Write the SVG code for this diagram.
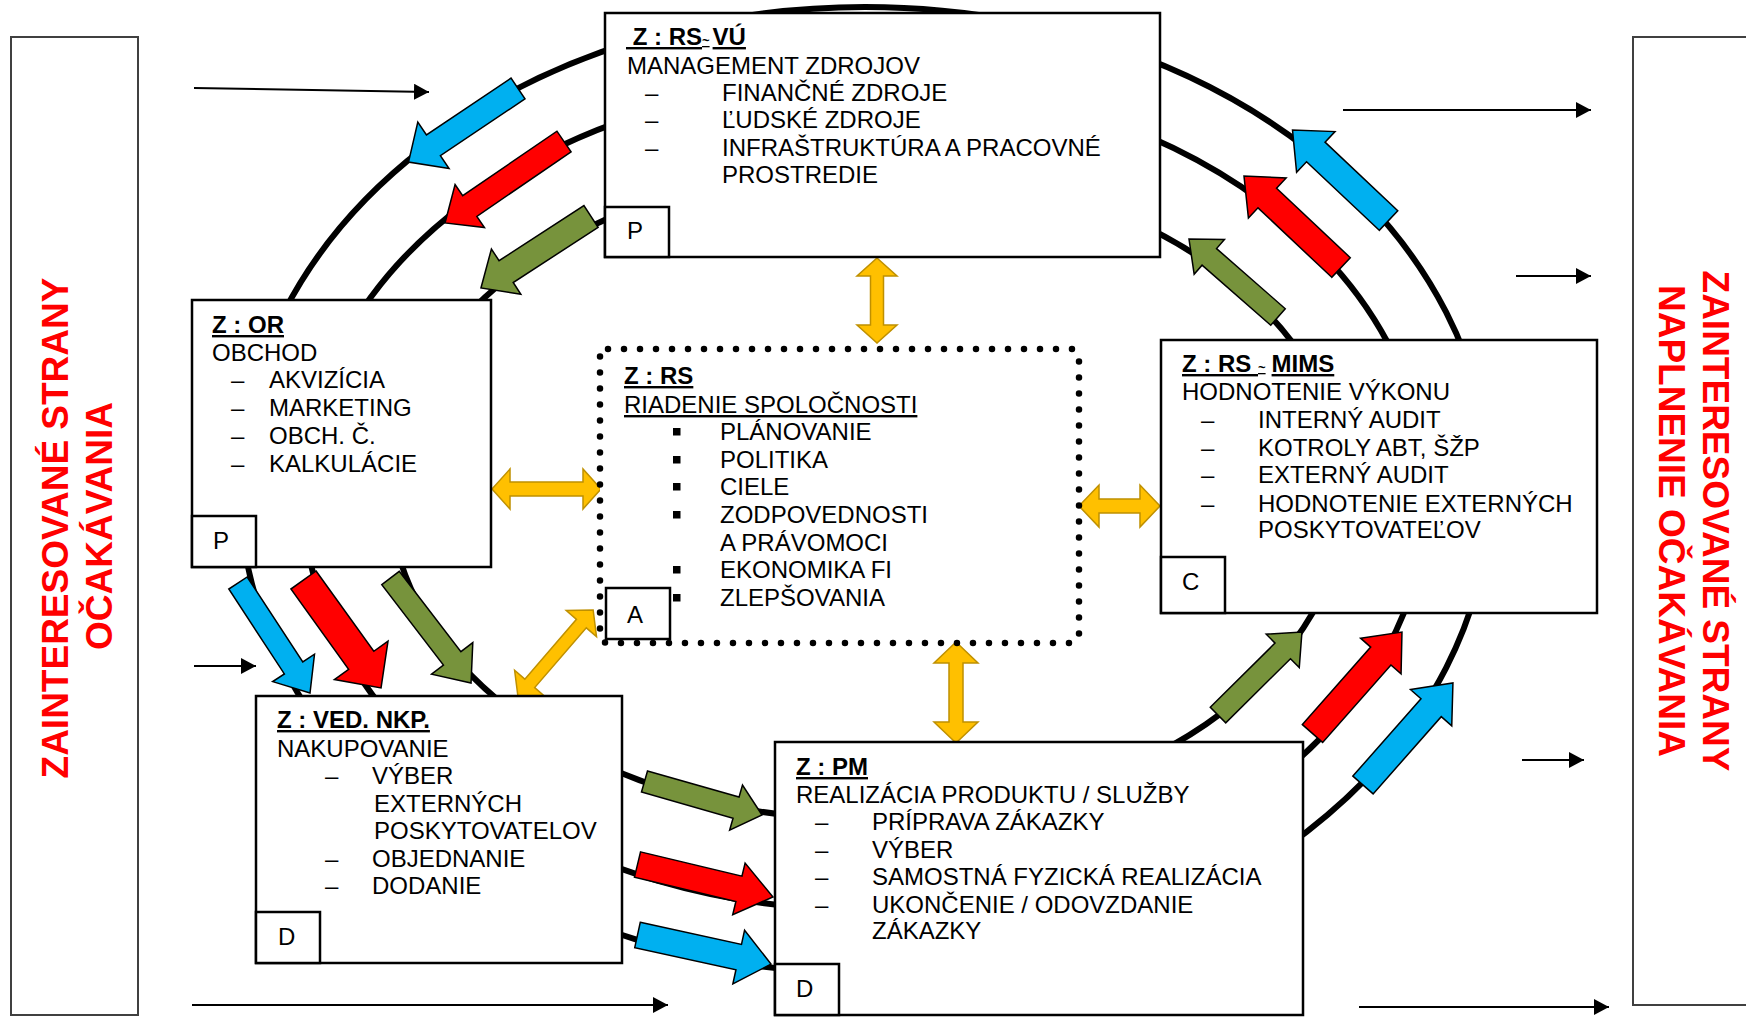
<svg xmlns="http://www.w3.org/2000/svg" width="1746" height="1028" viewBox="0 0 1746 1028">
<style>
.t{font-family:"Liberation Sans",Arial,sans-serif;font-size:24px;fill:#000}
.b{font-weight:bold}
.u{text-decoration:underline}
.side{font-family:"Liberation Sans",Arial,sans-serif;font-size:37px;font-weight:bold;fill:#FF0000}
.box{fill:#fff;stroke:#000;stroke-width:2.5}
.sbox{fill:#fff;stroke:#404040;stroke-width:2}
.ring{fill:none;stroke:#000;stroke-width:6}
.thin{stroke:#000;stroke-width:2;fill:none;marker-end:url(#ah)}
.blue{fill:#00B0F0;stroke:#000;stroke-width:1.5}
.red{fill:#FF0000;stroke:#000;stroke-width:1.5}
.green{fill:#77933C;stroke:#000;stroke-width:1.5}
.yel{fill:#FFC000;stroke:#BF9000;stroke-width:1.5}
</style>
<defs>
<marker id="ah" markerUnits="userSpaceOnUse" markerWidth="15" markerHeight="16" refX="15" refY="8" orient="auto"><path d="M0,0L15,8L0,16Z" fill="#000"/></marker>
</defs>
<rect width="1746" height="1028" fill="#fff"/>

<g id="stakeholders-expectations">
<rect class="sbox" x="11" y="37" width="127" height="978"/>
<text class="side" text-anchor="middle" transform="translate(68,528) rotate(-90)">ZAINTERESOVANÉ STRANY</text>
<text class="side" text-anchor="middle" transform="translate(112,526) rotate(-90)">OČAKÁVANIA</text>
</g>
<g id="stakeholders-fulfilment">
<rect class="sbox" x="1633" y="37" width="200" height="968"/>
<text class="side" text-anchor="middle" transform="translate(1703,521) rotate(90)">ZAINTERESOVANÉ STRANY</text>
<text class="side" text-anchor="middle" transform="translate(1659,521) rotate(90)">NAPLNENIE OČAKÁVANIA</text>
</g>

<g id="connectors">
<ellipse class="ring" cx="865" cy="490" rx="625" ry="483"/>
<ellipse class="ring" cx="865" cy="495" rx="562" ry="415"/>
<ellipse class="ring" cx="868" cy="493" rx="478" ry="327"/>

<line class="thin" x1="194" y1="88" x2="429" y2="92"/>
<line class="thin" x1="194" y1="666" x2="256" y2="666"/>
<line class="thin" x1="192" y1="1005" x2="668" y2="1005"/>
<line class="thin" x1="1343" y1="110" x2="1591" y2="110"/>
<line class="thin" x1="1516" y1="276" x2="1591" y2="276"/>
<line class="thin" x1="1522" y1="760" x2="1584" y2="760"/>
<line class="thin" x1="1359" y1="1007" x2="1609" y2="1007"/>

<path class="blue" transform="translate(518,88.5) rotate(146.1)" d="M0,-12.5H101.9V-28L131.9,0L101.9,28V12.5H0Z"/>
<path class="red" transform="translate(564,141.5) rotate(145.6)" d="M0,-12.5H114.2V-26L144.2,0L114.2,26V12.5H0Z"/>
<path class="green" transform="translate(591,216.5) rotate(147)" d="M0,-13H101.2V-27L131.2,0L101.2,27V13H0Z"/>
<path class="blue" transform="translate(1388.5,220.5) rotate(-136.7)" d="M0,-13.5H99.9V-28L131.9,0L99.9,28V13.5H0Z"/>
<path class="red" transform="translate(1341,267.5) rotate(-136.7)" d="M0,-13.5H101.3V-27.5L133.3,0L101.3,27.5V13.5H0Z"/>
<path class="green" transform="translate(1278,317) rotate(-138.8)" d="M0,-11H91.3V-23L118.3,0L91.3,23V11H0Z"/>
<path class="green" transform="translate(1218,715) rotate(-44.7)" d="M0,-11H91.1V-23.5L118.1,0L91.1,23.5V11H0Z"/>
<path class="red" transform="translate(1312.5,733.5) rotate(-48.6)" d="M0,-13.5H103.3V-27L135.3,0L103.3,27V13.5H0Z"/>
<path class="blue" transform="translate(1363,785) rotate(-48.6)" d="M0,-13.5H103V-27.5L136,0L103,27.5V13.5H0Z"/>
<path class="blue" transform="translate(238,583) rotate(56.8)" d="M0,-11H101.5V-25L131.5,0L101.5,25V11H0Z"/>
<path class="red" transform="translate(303.5,580) rotate(54.3)" d="M0,-15.5H98.9V-33L132.9,0L98.9,33V15.5H0Z"/>
<path class="green" transform="translate(390.5,578) rotate(52.5)" d="M0,-11H101.3V-26L132.3,0L101.3,26V11H0Z"/>
<path class="green" transform="translate(644.5,781.5) rotate(15.9)" d="M0,-11H95.2V-23.5L122.2,0L95.2,23.5V11H0Z"/>
<path class="red" transform="translate(637.5,864.5) rotate(13.5)" d="M0,-13H104.3V-26.5L139.3,0L104.3,26.5V13H0Z"/>
<path class="blue" transform="translate(637.5,935) rotate(12.3)" d="M0,-13H103.6V-27.5L136.6,0L103.6,27.5V13H0Z"/>

<polygon class="yel" points="877,258 897,276 883.5,276 883.5,325 897,325 877,343 857,325 870.5,325 870.5,276 857,276"/>
<polygon class="yel" points="492,489 510,469 510,482 583,482 583,469 601,489 583,509 583,496 510,496 510,509"/>
<polygon class="yel" points="1079,506 1099,485 1099,499 1140,499 1140,485 1160,506 1140,527 1140,513 1099,513 1099,527"/>
<polygon class="yel" points="956,642 978,663 963,663 963,722 978,722 956,743 934,722 949,722 949,663 934,663"/>
<path class="yel" transform="translate(518,697) rotate(-49.2)" d="M0,0L18,-20V-6.5H97V-20L115,0L97,20V6.5H18V20Z"/>
</g>

<g id="node-rs-vu">
<rect class="box" x="605" y="13" width="555" height="244"/>
<text class="t b u" x="626" y="45" xml:space="preserve"> Z : RS<tspan font-size="13">~</tspan><tspan dx="3">VÚ</tspan></text>
<text class="t" x="627" y="74">MANAGEMENT ZDROJOV</text>
<text class="t" x="645" y="101">–</text><text class="t" x="722" y="101">FINANČNÉ ZDROJE</text>
<text class="t" x="645" y="128">–</text><text class="t" x="722" y="128">ĽUDSKÉ ZDROJE</text>
<text class="t" x="645" y="156">–</text><text class="t" x="722" y="156">INFRAŠTRUKTÚRA A PRACOVNÉ</text>
<text class="t" x="722" y="183">PROSTREDIE</text>
<rect class="box" x="605" y="207" width="64" height="50"/>
<text class="t" x="627" y="239">P</text>
</g>

<g id="node-or">
<rect class="box" x="192" y="300" width="299" height="267"/>
<text class="t b u" x="212" y="333">Z : OR</text>
<text class="t" x="212" y="361">OBCHOD</text>
<text class="t" x="231" y="388">–</text><text class="t" x="269" y="388">AKVIZÍCIA</text>
<text class="t" x="231" y="416">–</text><text class="t" x="269" y="416">MARKETING</text>
<text class="t" x="231" y="444">–</text><text class="t" x="269" y="444">OBCH. Č.</text>
<text class="t" x="231" y="472">–</text><text class="t" x="269" y="472">KALKULÁCIE</text>
<rect class="box" x="192" y="516" width="64" height="51"/>
<text class="t" x="213" y="549">P</text>
</g>

<g id="node-rs">
<rect x="600" y="349" width="479" height="294" fill="#fff"/>
<rect class="box" x="606" y="588" width="64" height="51"/>
<text class="t" x="627" y="623">A</text>
<rect x="600" y="349" width="479" height="294" rx="8" fill="none" stroke="#000" stroke-width="6.5" stroke-linecap="round" stroke-dasharray="0 16"/>
<text class="t b u" x="624" y="384">Z : RS</text>
<text class="t u" x="624" y="413">RIADENIE SPOLOČNOSTI</text>
<rect x="673" y="428" width="7.5" height="7.5"/><text class="t" x="720" y="440">PLÁNOVANIE</text>
<rect x="673" y="456" width="7.5" height="7.5"/><text class="t" x="720" y="468">POLITIKA</text>
<rect x="673" y="483" width="7.5" height="7.5"/><text class="t" x="720" y="495">CIELE</text>
<rect x="673" y="511" width="7.5" height="7.5"/><text class="t" x="720" y="523">ZODPOVEDNOSTI</text>
<text class="t" x="720" y="551">A PRÁVOMOCI</text>
<rect x="673" y="566" width="7.5" height="7.5"/><text class="t" x="720" y="578">EKONOMIKA FI</text>
<rect x="673" y="594" width="7.5" height="7.5"/><text class="t" x="720" y="606">ZLEPŠOVANIA</text>
</g>

<g id="node-rs-mims">
<rect class="box" x="1161" y="340" width="436" height="273"/>
<text class="t b u" x="1182" y="372" xml:space="preserve">Z : RS <tspan font-size="13">~</tspan><tspan dx="6">MIMS</tspan></text>
<text class="t" x="1182" y="400">HODNOTENIE VÝKONU</text>
<text class="t" x="1201" y="428">–</text><text class="t" x="1258" y="428">INTERNÝ AUDIT</text>
<text class="t" x="1201" y="456">–</text><text class="t" x="1258" y="456">KOTROLY ABT, ŠŽP</text>
<text class="t" x="1201" y="483">–</text><text class="t" x="1258" y="483">EXTERNÝ AUDIT</text>
<text class="t" x="1201" y="512">–</text><text class="t" x="1258" y="512">HODNOTENIE EXTERNÝCH</text>
<text class="t" x="1258" y="538">POSKYTOVATEĽOV</text>
<rect class="box" x="1161" y="557" width="64" height="56"/>
<text class="t" x="1182" y="590">C</text>
</g>

<g id="node-ved-nkp">
<rect class="box" x="256" y="696" width="366" height="267"/>
<text class="t b u" x="277" y="728">Z : VED. NKP.</text>
<text class="t" x="277" y="757">NAKUPOVANIE</text>
<text class="t" x="325" y="784">–</text><text class="t" x="372" y="784">VÝBER</text>
<text class="t" x="374" y="812">EXTERNÝCH</text>
<text class="t" x="374" y="839">POSKYTOVATELOV</text>
<text class="t" x="325" y="867">–</text><text class="t" x="372" y="867">OBJEDNANIE</text>
<text class="t" x="325" y="894">–</text><text class="t" x="372" y="894">DODANIE</text>
<rect class="box" x="256" y="912" width="64" height="51"/>
<text class="t" x="278" y="945">D</text>
</g>

<g id="node-pm">
<rect class="box" x="775" y="742" width="528" height="273"/>
<text class="t b u" x="796" y="775">Z : PM</text>
<text class="t" x="796" y="803">REALIZÁCIA PRODUKTU / SLUŽBY</text>
<text class="t" x="815" y="830">–</text><text class="t" x="872" y="830">PRÍPRAVA ZÁKAZKY</text>
<text class="t" x="815" y="858">–</text><text class="t" x="872" y="858">VÝBER</text>
<text class="t" x="815" y="885">–</text><text class="t" x="872" y="885">SAMOSTNÁ FYZICKÁ REALIZÁCIA</text>
<text class="t" x="815" y="913">–</text><text class="t" x="872" y="913">UKONČENIE / ODOVZDANIE</text>
<text class="t" x="872" y="939">ZÁKAZKY</text>
<rect class="box" x="775" y="964" width="64" height="51"/>
<text class="t" x="796" y="997">D</text>
</g>
</svg>
